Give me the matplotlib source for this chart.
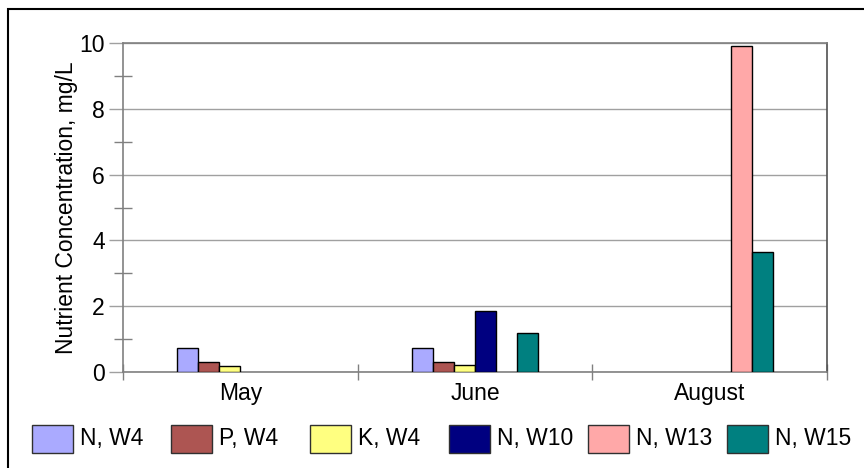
import matplotlib
matplotlib.use("Agg")
import matplotlib.pyplot as plt
from matplotlib.patches import Rectangle
from matplotlib.ticker import MultipleLocator
import numpy as np

plt.rcParams['font.family'] = ['Liberation Sans', 'DejaVu Sans']

months = ["May", "June", "August"]
series = ["N, W4", "P, W4", "K, W4", "N, W10", "N, W13", "N, W15"]
n_w4 = [0.74, 0.74, 0.0]
p_w4 = [0.29, 0.29, 0.0]
k_w4 = [0.19, 0.22, 0.0]
n_w10 = [0.0, 1.85, 0.0]
n_w13 = [0.0, 0.0, 9.9]
n_w15 = [0.0, 1.18, 3.65]
values = [n_w4, p_w4, k_w4, n_w10, n_w13, n_w15]
colors = ["#AAAAFF", "#AD5552", "#FFFF80", "#000080", "#FFA8A8", "#008080"]

fig = plt.figure(figsize=(8.64, 4.68), dpi=100)
ax = fig.add_axes([123/864, 1 - 372/468, (827-123)/864, (372-43)/468])

x = np.arange(len(months))
w = 0.0896
for i, (vals, c) in enumerate(zip(values, colors)):
    xs = x + (i - 2.5) * w
    vv = np.array(vals)
    m = vv > 0
    ax.bar(xs[m], vv[m], width=w, color=c, edgecolor="black", linewidth=1.0, zorder=3)

ax.set_xlim(-0.5, 2.5)
ax.set_ylim(0, 10)
ax.yaxis.set_major_locator(MultipleLocator(2))
ax.yaxis.set_minor_locator(MultipleLocator(1))
ax.grid(axis='y', which='major', color='#A0A0A0', linewidth=1.0, zorder=0)

ax.set_xticks([-0.5, 0.5, 1.5, 2.5])
ax.set_xticklabels([])
ax.set_xticks(x, minor=True)
ax.set_xticklabels(months, minor=True, fontsize=16.5)
ax.tick_params(axis='x', which='major', direction='inout', length=12, color='#808080', width=1)
ax.tick_params(axis='x', which='minor', length=0, pad=7)
ax.tick_params(axis='y', which='major', direction='out', length=10, color='#A0A0A0', width=1, labelsize=16.5, pad=3)
ax.tick_params(axis='y', which='minor', direction='inout', length=13, color='#808080', width=1)

for s in ['left', 'bottom', 'top']:
    ax.spines[s].set_color('#808080')
    ax.spines[s].set_linewidth(1.2)
ax.spines['right'].set_color('#505050')
ax.spines['right'].set_linewidth(1.2)

ax.set_ylabel("Nutrient Concentration, mg/L", fontsize=16.5, labelpad=1)

# figure border
fig.patches.append(Rectangle((8/864, -0.05), 1.0, (468 - 9)/468 + 0.05, transform=fig.transFigure,
                             fill=False, edgecolor='black', linewidth=1.5))

# manual legend
for i, (name, c) in enumerate(zip(series, colors)):
    x0 = (32 + 139 * i) / 864
    y0 = 1 - 453 / 468
    fig.patches.append(Rectangle((x0, y0), 41/864, 28/468, transform=fig.transFigure,
                                 facecolor=c, edgecolor='#303030', linewidth=1.0))
    fig.text(x0 + 48/864, y0 + 14/468, name, fontsize=16.5, va='center', ha='left')

fig.savefig("out.png", dpi=100)
